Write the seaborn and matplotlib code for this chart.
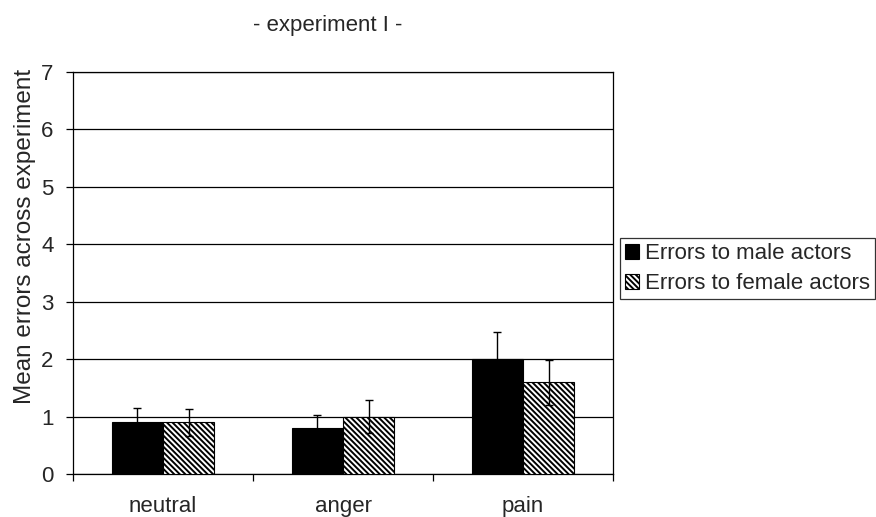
import matplotlib
matplotlib.use("Agg")
import matplotlib.pyplot as plt
from matplotlib.patches import Patch
from matplotlib.ticker import FixedLocator
import seaborn as sns
import pandas as pd

categories = ["neutral", "anger", "pain"]
series_names = ["Errors to male actors", "Errors to female actors"]
male_means = [0.9, 0.8, 2.0]
male_errs = [0.25, 0.23, 0.48]
female_means = [0.9, 1.0, 1.6]
female_errs = [0.24, 0.28, 0.39]
y_ticks = [0, 1, 2, 3, 4, 5, 6, 7]
title_text = "- experiment I -"
y_label = "Mean errors across experiment"

sns.set_theme(style="white")
plt.rcParams["font.family"] = ["Liberation Sans", "DejaVu Sans"]
plt.rcParams["hatch.linewidth"] = 1.4
plt.rcParams["hatch.color"] = "black"

df = pd.DataFrame({
    "category": categories * 2,
    "series": [series_names[0]] * 3 + [series_names[1]] * 3,
    "value": male_means + female_means,
})
errs = [male_errs, female_errs]

fig = plt.figure(figsize=(8.76, 5.17), dpi=100)
ax = fig.add_axes([73 / 876, 1 - 474 / 517, 540 / 876, 402 / 517])

palette = {series_names[0]: "black", series_names[1]: "white"}
sns.barplot(data=df, x="category", y="value", hue="series", order=categories,
            hue_order=series_names, palette=palette, width=0.57,
            edgecolor="black", linewidth=0.8, errorbar=None, legend=False,
            saturation=1, ax=ax, zorder=3)

hatch_pat = "\\" * 6
hatches = [None, hatch_pat]
bar_containers = list(ax.containers)
for i, cont in enumerate(bar_containers):
    for bar in cont:
        if hatches[i]:
            bar.set_hatch(hatches[i])
        bar.set_zorder(3)
    xs = [b.get_x() + b.get_width() / 2 for b in cont]
    hs = [b.get_height() for b in cont]
    ax.errorbar(xs, hs, yerr=errs[i], fmt="none", ecolor="black",
                elinewidth=1.0, capsize=2.6, capthick=1.0, zorder=4)

ax.set_ylim(0, 7)
ax.set_xlim(-0.5, 2.5)
ax.set_yticks(y_ticks)
ax.set_yticklabels([str(t) for t in y_ticks], fontsize=16)
ax.yaxis.grid(True, color="black", linewidth=0.9)
ax.set_axisbelow(True)
ax.tick_params(axis="y", direction="out", length=5, width=0.9, color="black",
               pad=9, left=True)
ax.tick_params(axis="x", which="major", length=0, pad=16, labelsize=16)
ax.xaxis.set_minor_locator(FixedLocator([-0.5, 0.5, 1.5, 2.5]))
ax.tick_params(axis="x", which="minor", direction="out", length=5, width=0.9,
               color="black", bottom=True)
ax.set_xlabel("")
ax.set_ylabel(y_label, fontsize=17.5)
ax.yaxis.set_label_coords(-0.068, 0.59)
for s in ax.spines.values():
    s.set_visible(True)
    s.set_color("black")
    s.set_linewidth(0.9)

handles = [Patch(facecolor="black", edgecolor="black", linewidth=0.8),
           Patch(facecolor="white", edgecolor="black", linewidth=0.8, hatch=hatch_pat)]
leg = fig.legend(handles, series_names, loc="upper left",
                 bbox_to_anchor=(620 / 876, 1 - 238 / 517), fontsize=16,
                 frameon=True, fancybox=False, shadow=False,
                 handlelength=0.65, handleheight=0.65, handletextpad=0.25,
                 borderpad=0.22, labelspacing=0.43, borderaxespad=0)
leg.get_frame().set_edgecolor("black")
leg.get_frame().set_linewidth(0.9)

fig.text(328 / 876, 1 - 25 / 517, title_text, ha="center", va="center", fontsize=16)

fig.savefig("out.png", dpi=100)
